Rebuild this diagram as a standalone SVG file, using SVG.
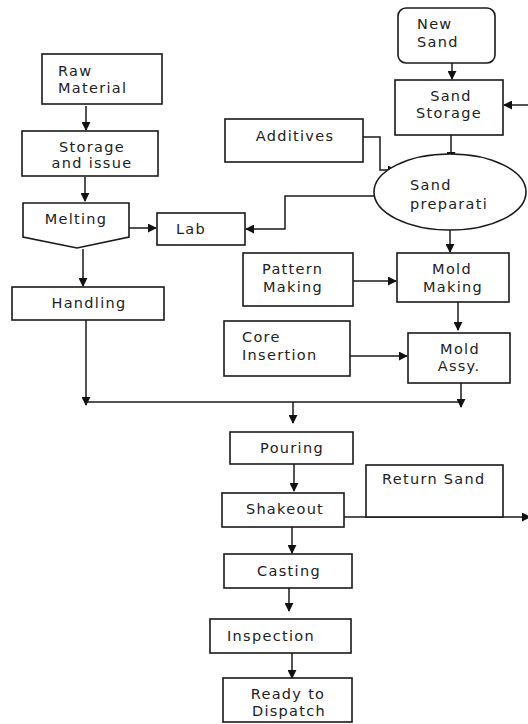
<svg xmlns="http://www.w3.org/2000/svg" width="528" height="724" viewBox="0 0 528 724">
  <style>
    .box { fill: #ffffff; stroke: #1a1a1a; stroke-width: 1.6; }
    .lbl { font-family: "DejaVu Sans", Verdana, sans-serif; font-size: 14.5px; letter-spacing: 1.3px; fill: #222222; }
    .mid { text-anchor: middle; }
    .wire { fill: none; stroke: #1a1a1a; stroke-width: 1.5; }
  </style>
  <defs>
    <marker id="arrow" viewBox="0 0 10 10" refX="9" refY="5" markerWidth="9" markerHeight="9" markerUnits="userSpaceOnUse" orient="auto">
      <path d="M0,0 L10,5 L0,10 Z" fill="#111111"/>
    </marker>
  </defs>
  <rect width="528" height="724" fill="#ffffff"/>

  <g id="connectors">
    <!-- metal line -->
    <line class="wire" x1="86" y1="106" x2="86" y2="130" marker-end="url(#arrow)"/>
    <line class="wire" x1="85" y1="177" x2="85" y2="201" marker-end="url(#arrow)"/>
    <line class="wire" x1="128" y1="228" x2="156" y2="228" marker-end="url(#arrow)"/>
    <line class="wire" x1="83" y1="249" x2="83" y2="286" marker-end="url(#arrow)"/>
    <!-- handling down to merge line -->
    <line class="wire" x1="86" y1="320" x2="86" y2="405" marker-end="url(#arrow)"/>
    <line class="wire" x1="86" y1="402" x2="461" y2="402"/>
    <line class="wire" x1="293" y1="402" x2="293" y2="423" marker-end="url(#arrow)"/>
    <!-- sand line -->
    <line class="wire" x1="452" y1="63" x2="452" y2="79" marker-end="url(#arrow)"/>
    <line class="wire" x1="451" y1="135" x2="451" y2="160" marker-end="url(#arrow)"/>
    <path class="wire" d="M363,137 H380 V170 H396" marker-end="url(#arrow)"/>
    <path class="wire" d="M374,196 H285 V229 H246" marker-end="url(#arrow)"/>
    <line class="wire" x1="450" y1="230" x2="450" y2="252" marker-end="url(#arrow)"/>
    <line class="wire" x1="353" y1="281" x2="396" y2="281" marker-end="url(#arrow)"/>
    <line class="wire" x1="458" y1="302" x2="458" y2="330" marker-end="url(#arrow)"/>
    <line class="wire" x1="350" y1="356" x2="407" y2="356" marker-end="url(#arrow)"/>
    <line class="wire" x1="461" y1="383" x2="461" y2="407" marker-end="url(#arrow)"/>
    <!-- return sand loop -->
    <line class="wire" x1="528" y1="105" x2="504" y2="105" marker-end="url(#arrow)"/>
    <line class="wire" x1="344" y1="517" x2="530" y2="517" marker-end="url(#arrow)"/>
    <!-- finishing line -->
    <line class="wire" x1="294" y1="464" x2="294" y2="491" marker-end="url(#arrow)"/>
    <line class="wire" x1="292" y1="527" x2="292" y2="553" marker-end="url(#arrow)"/>
    <line class="wire" x1="289" y1="588" x2="289" y2="611" marker-end="url(#arrow)"/>
    <line class="wire" x1="292" y1="653" x2="292" y2="678" marker-end="url(#arrow)"/>
  </g>

  <g id="raw-material">
    <rect class="box" x="42" y="54" width="120" height="50"/>
    <text class="lbl" x="58" y="76">Raw</text>
    <text class="lbl" x="58" y="93">Material</text>
  </g>
  <g id="storage-issue">
    <rect class="box" x="22" y="131" width="136" height="45"/>
    <text class="lbl mid" x="92" y="152">Storage</text>
    <text class="lbl mid" x="92" y="168">and issue</text>
  </g>
  <g id="melting">
    <path class="box" d="M23,203 H129 V237 L77,248 L23,237 Z"/>
    <text class="lbl mid" x="76" y="224">Melting</text>
  </g>
  <g id="lab">
    <rect class="box" x="157" y="213" width="88" height="32"/>
    <text class="lbl mid" x="191" y="234">Lab</text>
  </g>
  <g id="handling">
    <rect class="box" x="12" y="287" width="152" height="33"/>
    <text class="lbl mid" x="89" y="308">Handling</text>
  </g>
  <g id="new-sand">
    <rect class="box" x="398" y="8" width="97" height="55" rx="8" ry="8"/>
    <text class="lbl" x="417" y="29">New</text>
    <text class="lbl" x="417" y="47">Sand</text>
  </g>
  <g id="sand-storage">
    <rect class="box" x="395" y="80" width="108" height="55"/>
    <text class="lbl mid" x="451" y="101">Sand</text>
    <text class="lbl mid" x="449" y="118">Storage</text>
  </g>
  <g id="additives">
    <rect class="box" x="225" y="119" width="138" height="43"/>
    <text class="lbl mid" x="295" y="141">Additives</text>
  </g>
  <g id="sand-preparation">
    <ellipse class="box" cx="450" cy="192" rx="76" ry="38"/>
    <text class="lbl" x="410" y="190">Sand</text>
    <text class="lbl" x="410" y="209">preparati</text>
  </g>
  <g id="pattern-making">
    <rect class="box" x="243" y="253" width="110" height="53"/>
    <text class="lbl" x="262" y="274">Pattern</text>
    <text class="lbl" x="263" y="292">Making</text>
  </g>
  <g id="mold-making">
    <rect class="box" x="397" y="253" width="112" height="49"/>
    <text class="lbl mid" x="452" y="274">Mold</text>
    <text class="lbl mid" x="453" y="292">Making</text>
  </g>
  <g id="core-insertion">
    <rect class="box" x="224" y="321" width="126" height="55"/>
    <text class="lbl" x="242" y="342">Core</text>
    <text class="lbl" x="242" y="360">Insertion</text>
  </g>
  <g id="mold-assembly">
    <rect class="box" x="408" y="333" width="102" height="50"/>
    <text class="lbl mid" x="460" y="354">Mold</text>
    <text class="lbl mid" x="459" y="371">Assy.</text>
  </g>
  <g id="pouring">
    <rect class="box" x="230" y="432" width="123" height="32"/>
    <text class="lbl mid" x="292" y="453">Pouring</text>
  </g>
  <g id="return-sand">
    <rect class="box" x="366" y="465" width="137" height="52"/>
    <text class="lbl" x="382" y="484">Return Sand</text>
  </g>
  <g id="shakeout">
    <rect class="box" x="222" y="493" width="122" height="34"/>
    <text class="lbl mid" x="285" y="514">Shakeout</text>
  </g>
  <g id="casting">
    <rect class="box" x="224" y="554" width="128" height="34"/>
    <text class="lbl mid" x="289" y="576">Casting</text>
  </g>
  <g id="inspection">
    <rect class="box" x="210" y="619" width="141" height="34"/>
    <text class="lbl" x="227" y="641">Inspection</text>
  </g>
  <g id="ready-to-dispatch">
    <rect class="box" x="223" y="678" width="129" height="44"/>
    <text class="lbl mid" x="288" y="699">Ready to</text>
    <text class="lbl mid" x="289" y="716">Dispatch</text>
  </g>
</svg>
